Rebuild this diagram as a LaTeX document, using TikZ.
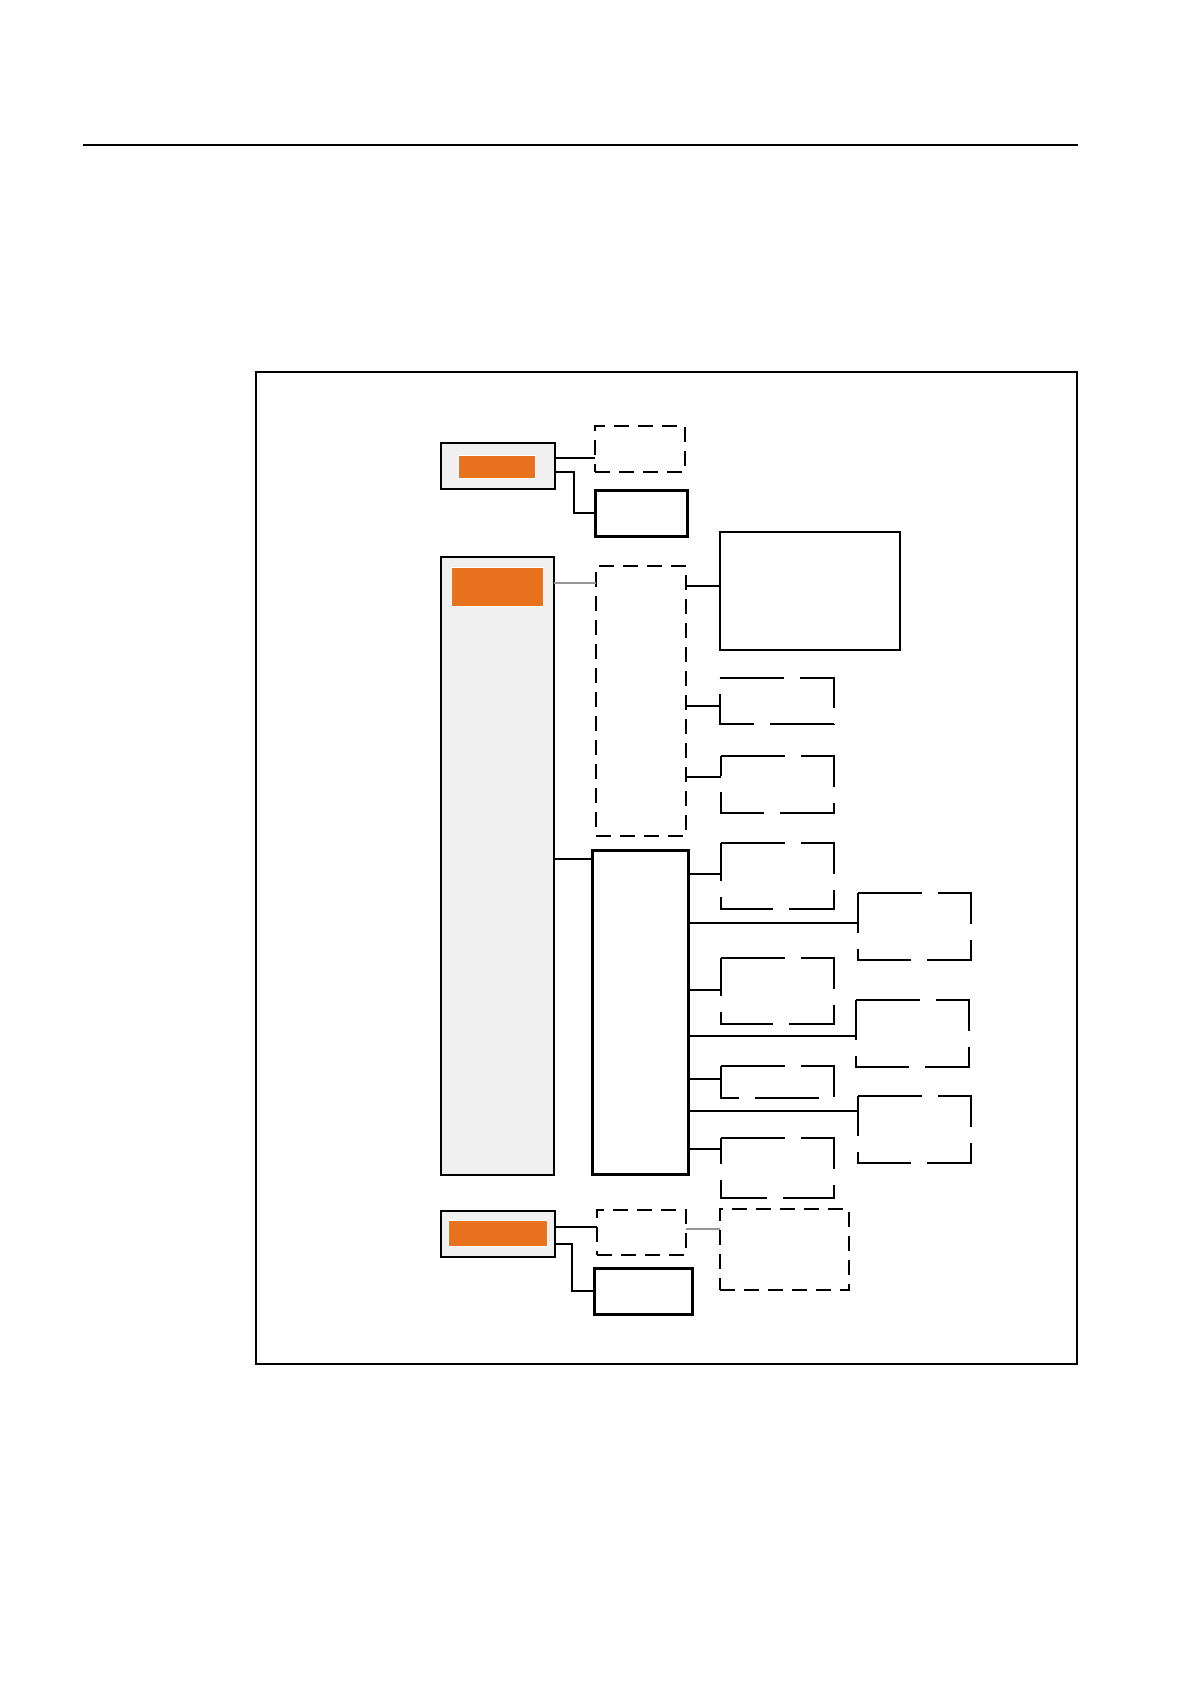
\documentclass[tikz,border=0pt]{standalone}
\usetikzlibrary{fit}
\definecolor{orng}{RGB}{232,114,30}
\definecolor{lgray}{RGB}{240,240,241}
\definecolor{cgray}{RGB}{150,150,150}
\tikzset{
 area/.style={inner sep=0pt, outer sep=0pt},
 dbox/.style={area, draw, line width=0.6pt, dash pattern=on 7.5pt off 4.5pt},
 sbox/.style={area, draw, line width=1.5pt},
 thinbox/.style={area, draw, line width=0.6pt},
 graybox/.style={area, draw, fill=lgray, line width=0.6pt},
 graycol/.style={area, draw, fill=lgray, line width=1pt},
 orbox/.style={area, fill=orng, draw=white, line width=0.4pt},
 ldbox/.style={area},
 ldash/.style={line width=1pt, dash pattern=on 32pt off 8pt},
 conn/.style={line width=0.6pt},
 gconn/.style={line width=0.8pt, draw=cgray},
 rule/.style={line width=0.8pt},
}
\begin{document}
\begin{tikzpicture}[x=0.5pt,y=-0.5pt]
\useasboundingbox (0,0) rectangle (1190,1684);
% header rule and frame
\coordinate (hl) at (83,145);
\coordinate (hr) at (1078,145);
\draw[rule] (hl) -- (hr);
\node[thinbox, fit={(256,372) (1077,1364)}] (frame) {};

% top group
\node[graybox, fit={(441,443) (555,489)}] (tg) {};
\node[orbox, fit={(458,455) (535,478)}] (to) {};
\node[dbox, fit={(595,426) (685,472)}] (td) {};
\node[sbox, fit={(595,490) (687,536)}] (tk) {};

% main column
\node[graycol, fit={(441,557) (554,1175)}] (col) {};
\node[orbox, fit={(451,567) (543,606)}] (co) {};
\node[dbox, fit={(596,566) (686,836)}] (tdash) {};
\node[thinbox, fit={(720,532) (900,650)}] (big) {};
\node[sbox, fit={(592,850) (688,1174)}] (tsolid) {};

% long-dash boxes
\node[ldbox, fit={(720,678) (834,724)}] (A) {};
\node[ldbox, fit={(721,756) (834,813)}] (B) {};
\node[ldbox, fit={(721,843) (834,909)}] (C) {};
\node[ldbox, fit={(858,893) (971,960)}] (D) {};
\node[ldbox, fit={(721,958) (834,1024)}] (E) {};
\node[ldbox, fit={(856,1000) (969,1067)}] (F) {};
\node[ldbox, fit={(721,1066) (834,1098)}] (G) {};
\node[ldbox, fit={(858,1096) (971,1163)}] (H) {};
\node[ldbox, fit={(721,1138) (834,1198)}] (I) {};
\foreach \n in {A,B,C,D,E,F,G,H,I}
  \draw[ldash] (\n.north west) -- (\n.north east) -- (\n.south east) -- (\n.south west) -- cycle;

% bottom group
\node[graybox, fit={(441,1211) (555,1257)}] (bg) {};
\node[orbox, fit={(448,1220) (547,1246)}] (bo) {};
\node[dbox, fit={(597,1210) (686,1255)}] (J) {};
\node[sbox, fit={(594,1268) (692,1314)}] (K) {};
\node[dbox, fit={(720,1209) (849,1290)}] (L) {};

% connector levels
\coordinate (y1) at (0,458);
\coordinate (y2) at (0,472);
\coordinate (x2) at (574,0);
\coordinate (y3) at (0,583);
\coordinate (y4) at (0,586);
\coordinate (y5) at (0,706);
\coordinate (y6) at (0,777);
\coordinate (y7) at (0,859);
\coordinate (y8) at (0,874);
\coordinate (y9) at (0,923);
\coordinate (y10) at (0,990);
\coordinate (y11) at (0,1036);
\coordinate (y12) at (0,1079);
\coordinate (y13) at (0,1111);
\coordinate (y14) at (0,1149);
\coordinate (y15) at (0,1227);
\coordinate (y16) at (0,1244);
\coordinate (x16) at (572,0);
\coordinate (y17) at (0,1229);

% connectors
\draw[conn] (tg.east |- y1) -- (td.west |- y1);
\draw[conn] (tg.east |- y2) -- (x2 |- y2) |- (tk.west);
\draw[gconn] (col.east |- y3) -- (tdash.west |- y3);
\draw[conn] (tdash.east |- y4) -- (big.west |- y4);
\draw[conn] (tdash.east |- y5) -- (A.west |- y5);
\draw[conn] (tdash.east |- y6) -- (B.west |- y6);
\draw[conn] (col.east |- y7) -- (tsolid.west |- y7);
\draw[conn] (tsolid.east |- y8) -- (C.west |- y8);
\draw[conn] (tsolid.east |- y9) -- (D.west |- y9);
\draw[conn] (tsolid.east |- y10) -- (E.west |- y10);
\draw[conn] (tsolid.east |- y11) -- (F.west |- y11);
\draw[conn] (tsolid.east |- y12) -- (G.west |- y12);
\draw[conn] (tsolid.east |- y13) -- (H.west |- y13);
\draw[conn] (tsolid.east |- y14) -- (I.west |- y14);
\draw[conn] (bg.east |- y15) -- (J.west |- y15);
\draw[conn] (bg.east |- y16) -- (x16 |- y16) |- (K.west);
\draw[gconn] (J.east |- y17) -- (L.west |- y17);
\end{tikzpicture}
\end{document}
